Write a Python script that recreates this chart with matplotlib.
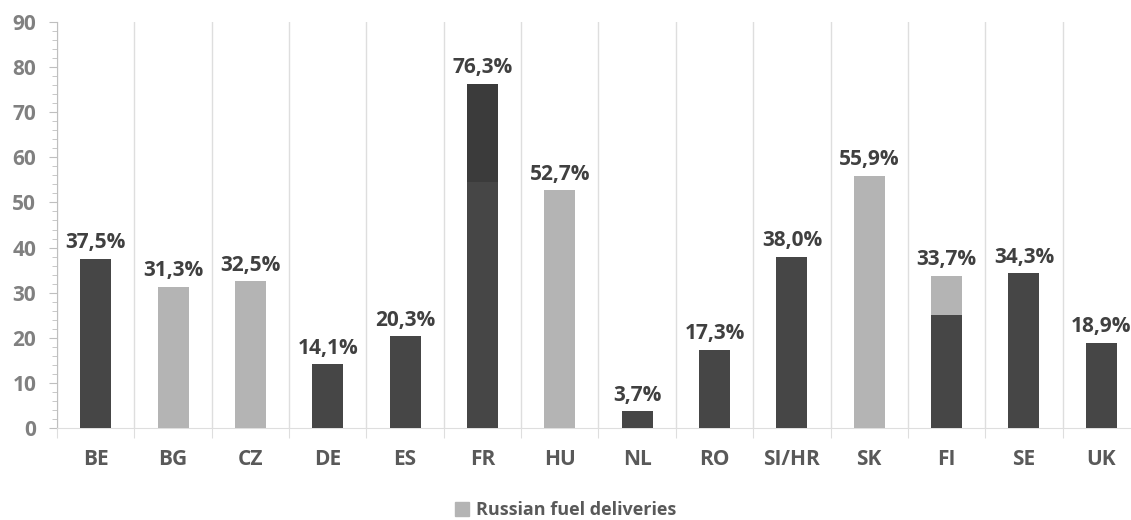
import matplotlib.pyplot as plt
import numpy as np
from matplotlib.patches import Patch

countries = ["BE", "BG", "CZ", "DE", "ES", "FR", "HU", "NL", "RO", "SI/HR", "SK", "FI", "SE", "UK"]
# dark base part, darker upper part (FR only), Russian fuel deliveries
other = np.array([37.5, 0, 0, 14.1, 20.3, 54.5, 0, 3.7, 17.3, 38.0, 0, 25.0, 34.3, 18.9])
other_top = np.array([0, 0, 0, 0, 0, 21.8, 0, 0, 0, 0, 0, 0, 0, 0])
russian = np.array([0, 31.3, 32.5, 0, 0, 0, 52.7, 0, 0, 0, 55.9, 8.7, 0, 0])
totals = np.array([37.5, 31.3, 32.5, 14.1, 20.3, 76.3, 52.7, 3.7, 17.3, 38.0, 55.9, 33.7, 34.3, 18.9])

plt.rcParams['font.family'] = ['Open Sans', 'DejaVu Sans']
plt.rcParams['font.weight'] = 'bold'

fig = plt.figure(figsize=(11.31, 5.20), dpi=100)
ax = fig.add_axes([57/1131, 92/520, 1083/1131, 406/520])

x = np.arange(len(countries))
w = 0.40
ax.bar(x, other, w, color="#464646", zorder=3)
ax.bar(x, other_top, w, bottom=other, color="#3b3b3b", zorder=3)
ax.bar(x, russian, w, bottom=other + other_top, color="#b4b4b4", zorder=3)

for xi, t in zip(x, totals):
    ax.annotate(f"{t:.1f}%".replace(".", ","), (xi, t), xytext=(0, 4), textcoords="offset points",
                ha="center", va="bottom", fontsize=15, fontweight="bold", color="#404040")

ax.set_xlim(-0.5, len(countries) - 0.5)
ax.set_ylim(0, 90)
ax.set_yticks(np.arange(0, 91, 10))
ax.set_yticks(np.arange(0, 91, 2), minor=True)
ax.tick_params(axis="y", which="major", length=6, color="#bfbfbf", labelcolor="#808080",
               labelsize=15, pad=9)
ax.tick_params(axis="y", which="minor", length=3.5, color="#bfbfbf")

ax.set_xticks(np.arange(-0.5, len(countries), 1))
ax.set_xticklabels([])
ax.set_xticks(x, minor=True)
ax.set_xticklabels(countries, minor=True)
ax.tick_params(axis="x", which="major", length=7, color="#dedede")
ax.tick_params(axis="x", which="minor", length=0, labelcolor="#595959", labelsize=15, pad=15)
ax.xaxis.grid(True, which="major", color="#dedede", linewidth=1, zorder=0)

for s in ["top", "right"]:
    ax.spines[s].set_visible(False)
ax.spines["left"].set_color("#bfbfbf")
ax.spines["bottom"].set_color("#dedede")

fig.legend(handles=[Patch(color="#b4b4b4", label="Russian fuel deliveries")], loc="lower center",
           bbox_to_anchor=(0.5, -0.03), frameon=False, handlelength=0.75, handleheight=0.75,
           handletextpad=0.4, prop={"size": 13, "weight": "bold"}, labelcolor="#595959")

fig.savefig("out.png", dpi=100)
